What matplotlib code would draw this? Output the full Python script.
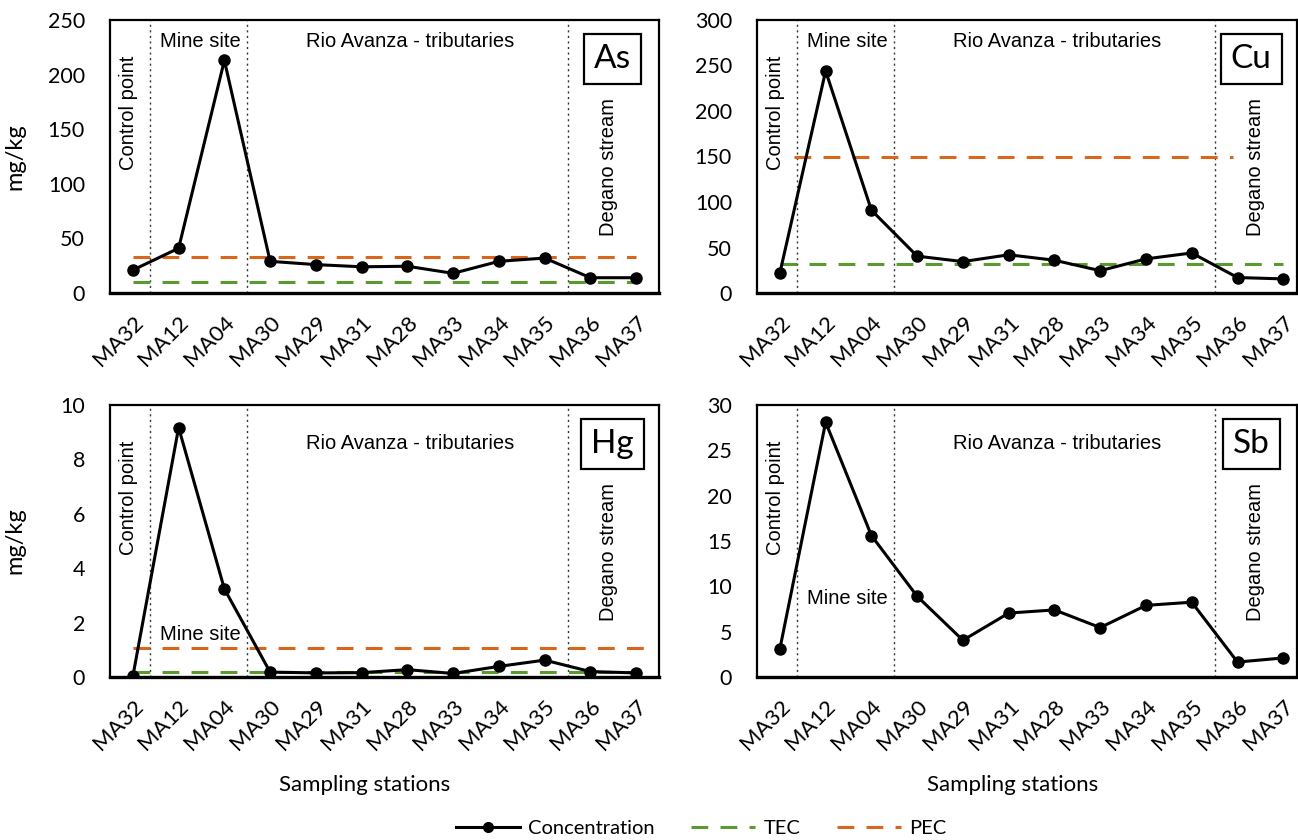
import matplotlib
matplotlib.use("Agg")
import matplotlib.pyplot as plt
from matplotlib.lines import Line2D

# Sampling stations (x axis categories)
stations = ["MA32", "MA12", "MA04", "MA30", "MA29", "MA31",
            "MA28", "MA33", "MA34", "MA35", "MA36", "MA37"]

# Concentrations in mg/kg
as_conc = [21, 41, 213, 29, 26, 24, 24.5, 18, 29, 32, 14, 14]
cu_conc = [22, 244, 91, 40.5, 34.5, 42, 36, 24.5, 37.5, 44, 17, 15.5]
hg_conc = [0.03, 9.17, 3.24, 0.18, 0.15, 0.16, 0.27, 0.13, 0.39, 0.62, 0.2, 0.15]
sb_conc = [3.1, 28.1, 15.6, 8.9, 4.05, 7.05, 7.4, 5.45, 7.9, 8.25, 1.65, 2.1]

# Sediment quality guidelines (TEC / PEC)
as_tec, as_pec = 9.79, 33.0
cu_tec, cu_pec = 31.6, 149.0
hg_tec, hg_pec = 0.18, 1.06

TEC_COLOR = "#5a9a2e"
PEC_COLOR = "#d8661c"
DASH = (0, (5.5, 4))
TICK_FONT = ["Lato", "DejaVu Sans"]
NOTE_FONT = ["Liberation Sans Narrow", "Liberation Sans", "DejaVu Sans"]

W, H = 1298, 840
fig = plt.figure(figsize=(W / 100, H / 100), dpi=100)


def px_axes(left, right, top, bottom):
    return fig.add_axes([left / W, 1 - bottom / H, (right - left) / W, (bottom - top) / H])


def draw_panel(ax, values, ymax, yticks, symbol, xmax, tec=None, pec=None,
               tec_span=(0, 11), pec_span=(0, 11), mine_y=None, rio_y=0.92):
    x = list(range(len(stations)))
    ax.plot(x, values, color="black", lw=2.2, marker="o", ms=8, zorder=5)
    if tec is not None:
        ax.plot(tec_span, [tec, tec], color=TEC_COLOR, lw=2.2, ls=DASH, zorder=3)
    if pec is not None:
        ax.plot(pec_span, [pec, pec], color=PEC_COLOR, lw=2.2, ls=DASH, zorder=3)

    # zone separators
    for xv in [0.37, 2.5, 9.5]:
        ax.axvline(xv, color="#333333", lw=1, ls=(0, (1.5, 2.5)), zorder=1)

    ax.set_xlim(-0.5, xmax)
    ax.set_ylim(0, ymax)
    ax.set_yticks(yticks)
    ax.set_xticks(x)
    ax.set_xticklabels(stations, rotation=45, ha="right", rotation_mode="anchor",
                       family=TICK_FONT, fontsize=16)
    for lab in ax.get_yticklabels():
        lab.set_family(TICK_FONT)
        lab.set_fontsize(15.5)
    ax.tick_params(length=0, pad=14)
    ax.tick_params(axis="y", pad=18)
    for sp in ax.spines.values():
        sp.set_linewidth(1.6)
    ax.spines["bottom"].set_linewidth(2.4)

    tr = ax.get_xaxis_transform()
    ax.text(-0.1, 0.66, "Control point", transform=tr, rotation=90, ha="center",
            va="center", family=NOTE_FONT, fontsize=14.5)
    ax.text(10.4, 0.46, "Degano stream", transform=tr, rotation=90, ha="center",
            va="center", family=NOTE_FONT, fontsize=14.5)
    ax.text(6.05, rio_y, "Rio Avanza - tributaries", transform=tr, ha="center",
            va="center", family=NOTE_FONT, fontsize=14.5)
    if mine_y is None:
        ax.text(1.47, 0.92, "Mine site", transform=tr, ha="center", va="center",
                family=NOTE_FONT, fontsize=14.5)
    else:
        ax.text(1.47, mine_y, "Mine site", ha="center", va="center",
                family=NOTE_FONT, fontsize=14.5)

    ax.text(0.915, 0.857, symbol, transform=ax.transAxes, ha="center", va="center",
            family=TICK_FONT, fontsize=24,
            bbox=dict(boxstyle="square,pad=0.3", fc="white", ec="black", lw=1.6))


ax_as = px_axes(110, 659, 20, 293)
ax_cu = px_axes(757, 1297, 20, 293)
ax_hg = px_axes(110, 659, 405, 677)
ax_sb = px_axes(757, 1297, 405, 677)

draw_panel(ax_as, as_conc, 250, range(0, 251, 50), "As", 11.5,
           tec=as_tec, pec=as_pec)
draw_panel(ax_cu, cu_conc, 300, range(0, 301, 50), "Cu", 11.3,
           tec=cu_tec, pec=cu_pec, pec_span=(0.3, 9.9))
draw_panel(ax_hg, hg_conc, 10, range(0, 11, 2), "Hg", 11.5,
           tec=hg_tec, pec=hg_pec, pec_span=(0, 11.3), mine_y=1.58, rio_y=0.86)
draw_panel(ax_sb, sb_conc, 30, range(0, 31, 5), "Sb", 11.3,
           mine_y=8.7, rio_y=0.86)

for ax in (ax_as, ax_hg):
    ax.set_ylabel("mg/kg", family=TICK_FONT, fontsize=17)
    ax.yaxis.set_label_coords(-0.155, 0.5)

ax_hg.set_xlabel("Sampling stations", family=TICK_FONT, fontsize=16)
ax_hg.xaxis.set_label_coords((365 - 110) / 549, -(785 - 677) / 272)
ax_sb.set_xlabel("Sampling stations", family=TICK_FONT, fontsize=16)
ax_sb.xaxis.set_label_coords((1013 - 757) / 540, -(785 - 677) / 272)
for ax in (ax_hg, ax_sb):
    ax.xaxis.label.set_va("center")

# Shared legend at the bottom
handles = [
    Line2D([], [], color="black", lw=2.2, marker="o", ms=7),
    Line2D([], [], color=TEC_COLOR, lw=2.2, ls=DASH),
    Line2D([], [], color=PEC_COLOR, lw=2.2, ls=DASH),
]
fig.legend(handles, ["Concentration", "TEC", "PEC"], loc="center",
           bbox_to_anchor=(0.54, 1 - 828 / H), ncol=3, frameon=False,
           prop={"family": TICK_FONT, "size": 14.5}, handlelength=3.2,
           columnspacing=1.8, handletextpad=0.4)

fig.savefig("out.png", dpi=100)
